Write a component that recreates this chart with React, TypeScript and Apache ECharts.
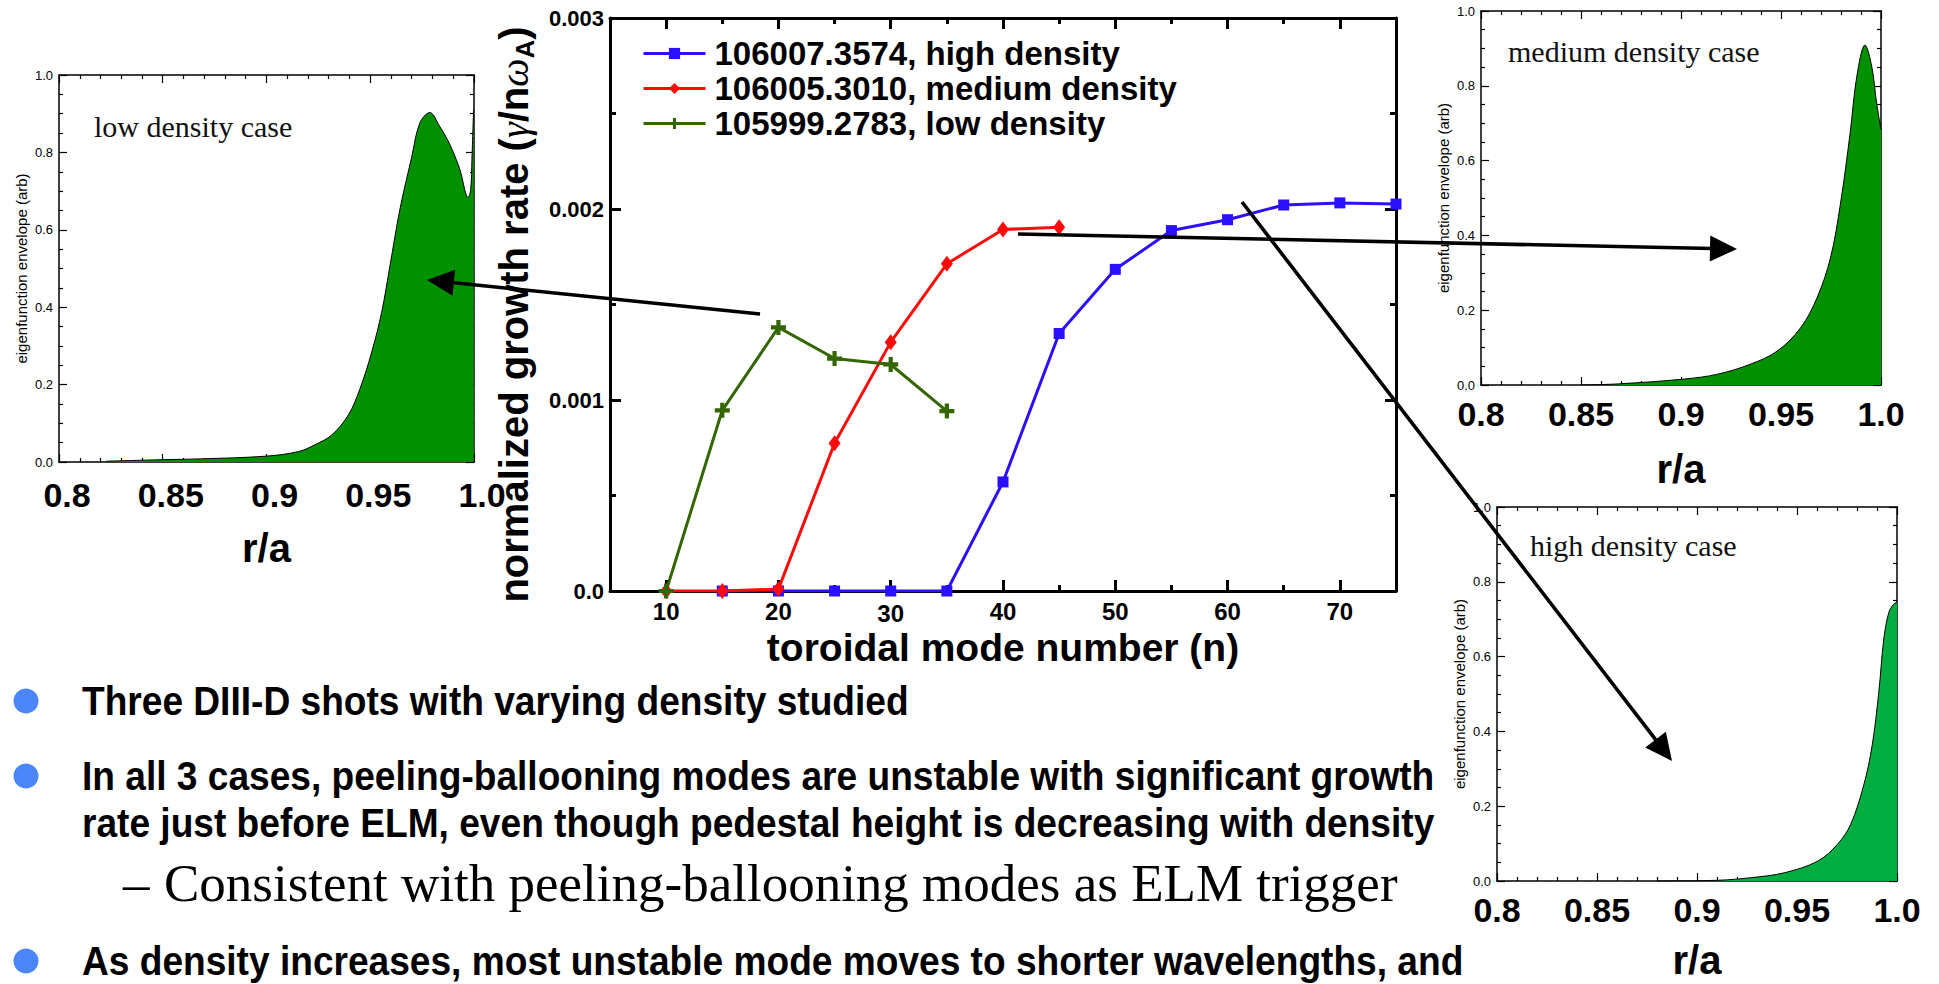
import React, { useEffect, useRef } from 'react';
import * as echarts from 'echarts';

// ---- growth-rate scan (toroidal mode number n vs normalized growth rate) ----
const highN = [15, 20, 25, 30, 35, 40, 45, 50, 55, 60, 65, 70, 75];
const highRate = [0, 0, 0, 0, 0, 0.000571, 0.001348, 0.001684, 0.001887, 0.001944, 0.002021, 0.002032, 0.002026];
const mediumN = [10, 15, 20, 25, 30, 35, 40, 45];
const mediumRate = [0, 0, 0.00001, 0.000774, 0.001303, 0.001713, 0.001893, 0.001904];
const lowN = [10, 15, 20, 25, 30, 35];
const lowRate = [0, 0.000946, 0.00138, 0.001217, 0.001186, 0.000942];
const seriesNames = ['106007.3574, high density', '106005.3010, medium density', '105999.2783, low density'];
const majorNTicks = [10, 20, 30, 40, 50, 60, 70];

// ---- eigenfunction envelopes vs r/a ----
const lowR = [0.8227, 0.85, 0.8675, 0.8995, 0.9155, 0.9235, 0.9315, 0.9395, 0.9451, 0.9507, 0.9555, 0.9595, 0.9643, 0.9699, 0.9739, 0.9787, 0.9835, 0.9875, 0.9915, 0.9939, 0.9955, 0.9971, 0.9984, 0.999, 0.9998];
const lowEnv = [0.002, 0.006, 0.008, 0.015, 0.027, 0.045, 0.07, 0.122, 0.19, 0.284, 0.387, 0.507, 0.653, 0.786, 0.876, 0.903, 0.867, 0.83, 0.781, 0.743, 0.704, 0.683, 0.704, 0.781, 0.91];
const mediumR = [0.85, 0.8687, 0.9018, 0.9184, 0.9349, 0.9482, 0.9598, 0.968, 0.9747, 0.9796, 0.9846, 0.9879, 0.992, 0.9954, 0.9978, 1.0];
const mediumEnv = [0.0, 0.003, 0.016, 0.029, 0.056, 0.091, 0.153, 0.233, 0.339, 0.48, 0.675, 0.825, 0.909, 0.851, 0.754, 0.683];
const highR = [0.88, 0.9106, 0.9272, 0.9437, 0.9603, 0.9702, 0.9768, 0.9834, 0.9876, 0.9909, 0.9934, 0.9959, 0.9983, 1.0];
const highEnv = [0, 0.002, 0.009, 0.022, 0.053, 0.098, 0.151, 0.257, 0.363, 0.505, 0.647, 0.718, 0.74, 0.745];

const panelCaptions = ['low density case', 'medium density case', 'high density case'];
const bulletLines = [
  'Three DIII-D shots with varying density studied',
  'In all 3 cases, peeling-ballooning modes are unstable with significant growth',
  'rate just before ELM, even though pedestal height is decreasing with density',
  'Consistent with peeling-ballooning modes as ELM trigger',
  'As density increases, most unstable mode moves to shorter wavelengths, and',
];

const SANS = "'Liberation Sans', Arial, Helvetica, sans-serif";
const SERIF = "'Liberation Serif', 'Times New Roman', serif";

const pairs = (xs: number[], ys: number[]) => xs.map((x, i) => [x, ys[i]]);

const PLUS = 'path://M3.6,0H6.4V3.6H10V6.4H6.4V10H3.6V6.4H0V3.6H3.6Z';

function arrow(from: number[], to: number[]) {
  const [x1, y1] = from;
  const [x2, y2] = to;
  const dx = x2 - x1, dy = y2 - y1;
  const len = Math.hypot(dx, dy);
  const ux = dx / len, uy = dy / len;
  const headLen = 27, half = 13;
  const bx = x2 - ux * headLen, by = y2 - uy * headLen;
  return [
    { type: 'line', z: 100, shape: { x1, y1, x2: bx + ux * 2, y2: by + uy * 2 }, style: { stroke: '#000', lineWidth: 3.6 } },
    {
      type: 'polygon', z: 100,
      shape: { points: [[x2, y2], [bx - uy * half, by + ux * half], [bx + uy * half, by - ux * half]] },
      style: { fill: '#000' },
    },
  ];
}

function panelAxes(grid: number, labelPad: number, labelMargin: number, rGap: number, yGap: number) {
  const xBase: any = {
    type: 'value', gridIndex: grid, min: 0.8, max: 1.0, interval: 0.05,
    splitLine: { show: false },
    axisLine: { onZero: false, lineStyle: { color: '#000', width: 1.5 } },
    axisTick: { inside: true, length: 8, lineStyle: { color: '#000', width: 1.2 } },
    minorTick: { show: true, splitNumber: 5, length: 4, lineStyle: { color: '#000', width: 1.2 } },
  };
  const bottom = {
    ...xBase, position: 'bottom',
    axisLabel: {
      show: true, margin: labelMargin, color: '#000', fontSize: 34, fontWeight: 'bold', fontFamily: SANS,
      padding: [0, 0, 0, labelPad], showMinLabel: true, showMaxLabel: true,
      formatter: (v: number) => { const r = Math.round(v * 100) / 100; return r === 1 ? '1.0' : String(r); },
    },
    name: 'r/a', nameLocation: 'middle', nameGap: rGap, nameMoveOverlap: false,
    nameTextStyle: { color: '#000', fontSize: 40, fontWeight: 'bold', fontFamily: SANS },
  };
  const top = { ...xBase, position: 'top', axisLabel: { show: false } };
  const yBase: any = {
    type: 'value', gridIndex: grid, min: 0, max: 1, interval: 0.2,
    splitLine: { show: false },
    axisLine: { show: true, onZero: false, lineStyle: { color: '#000', width: 1.5 } },
    axisTick: { show: true, inside: true, length: 8, lineStyle: { color: '#000', width: 1.2 } },
    minorTick: { show: true, splitNumber: 4, length: 4, lineStyle: { color: '#000', width: 1.2 } },
  };
  const left = {
    ...yBase, position: 'left',
    axisLabel: { show: true, margin: 6, color: '#000', fontSize: 13, fontFamily: SANS, formatter: (v: number) => v.toFixed(1) },
    name: 'eigenfunction envelope (arb)', nameLocation: 'middle', nameGap: yGap, nameRotate: 90, nameMoveOverlap: false,
    nameTextStyle: { color: '#000', fontSize: 15, fontFamily: SANS },
  };
  const right = { ...yBase, position: 'right', axisLabel: { show: false } };
  return { x: [bottom, top], y: [left, right] };
}

function buildOption(): any {
  const mainXBase: any = {
    type: 'value', gridIndex: 0, min: 5, max: 75, interval: 5,
    splitLine: { show: false },
    axisLine: { onZero: false, lineStyle: { color: '#000', width: 3 } },
    axisTick: { inside: true, length: 6, lineStyle: { color: '#000', width: 3 } },
  };
  const mainXMajor: any = {
    type: 'value', gridIndex: 0, min: 5, max: 75,
    splitLine: { show: false },
    axisLine: { show: false, onZero: false },
    axisTick: { show: true, inside: true, length: 11, customValues: majorNTicks, lineStyle: { color: '#000', width: 3 } },
    axisLabel: { show: false },
  };
  const mainX = [
    {
      ...mainXBase, position: 'bottom',
      axisLabel: {
        show: true, margin: 8, color: '#000',
        formatter: (v: number) => (v % 10 !== 0 ? '' : v === 30 ? `{lo|${v}}` : `{n|${v}}`),
        rich: {
          n: { fontSize: 24, lineHeight: 24, fontWeight: 'bold', fontFamily: SANS, color: '#000' },
          lo: { fontSize: 24, lineHeight: 24, fontWeight: 'bold', fontFamily: SANS, color: '#000', padding: [5, 0, 0, 0] },
        },
      },
      name: 'toroidal mode number (n)', nameLocation: 'middle', nameGap: 37, nameMoveOverlap: false,
      nameTextStyle: { color: '#000', fontSize: 39, lineHeight: 39, fontWeight: 'bold', fontFamily: SANS },
    },
    { ...mainXMajor, position: 'bottom' },
    { ...mainXBase, position: 'top', axisLabel: { show: false } },
    { ...mainXMajor, position: 'top' },
  ];
  const mainYBase: any = {
    type: 'value', gridIndex: 0, min: 0, max: 0.003, interval: 0.001,
    splitLine: { show: false },
    axisLine: { show: true, onZero: false, lineStyle: { color: '#000', width: 3 } },
    axisTick: { show: true, inside: true, length: 11, lineStyle: { color: '#000', width: 3 } },
    minorTick: { show: true, splitNumber: 2, length: 6, lineStyle: { color: '#000', width: 3 } },
  };
  const mainY = [
    {
      ...mainYBase, position: 'left',
      axisLabel: {
        show: true, margin: 6, color: '#000', fontSize: 22, fontWeight: 'bold', fontFamily: SANS,
        formatter: (v: number) => (v === 0 ? '0.0' : v.toFixed(3)),
      },
      name: '{t|normalized growth rate (}{g|γ}{t|/n}{g|ω}{s|A}{t|)}',
      nameLocation: 'middle', nameGap: 72, nameRotate: 90, nameMoveOverlap: false,
      nameTextStyle: {
        padding: [0, 20, 0, 0],
        rich: {
          t: { fontSize: 40, fontWeight: 'bold', fontFamily: SANS, color: '#000', lineHeight: 48 },
          g: { fontSize: 40, fontStyle: 'italic', fontFamily: SERIF, color: '#000', lineHeight: 48 },
          s: { fontSize: 26, fontWeight: 'bold', fontFamily: SANS, color: '#000', lineHeight: 48, verticalAlign: 'bottom' },
        },
      },
    },
    { ...mainYBase, position: 'right', axisLabel: { show: false } },
  ];

  const low = panelAxes(1, 16, 16, 66, 30);
  const med = panelAxes(2, 0, 12, 64, 30);
  const high = panelAxes(3, 0, 12, 59, 30);

  const lineSeries = (name: string, xs: number[], ys: number[], color: string, symbol: string, symbolSize: any) => ({
    type: 'line', name, xAxisIndex: 0, yAxisIndex: 0,
    data: pairs(xs, ys), color,
    symbol, symbolSize, showSymbol: true,
    lineStyle: { color, width: 3 },
    itemStyle: { color },
  });

  const envSeries = (name: string, xs: number[], ys: number[], xi: number, yi: number, fill: string) => ({
    type: 'line', name, xAxisIndex: xi, yAxisIndex: yi,
    data: pairs(xs, ys), showSymbol: false, symbol: 'none', smooth: 0.35,
    lineStyle: { color: '#000', width: 1 },
    areaStyle: { color: fill, opacity: 1 },
  });

  const graphic: any[] = [];
  // panel captions
  const captionPos = [[94, 126], [1508, 51], [1530, 545]];
  panelCaptions.forEach((t, i) => {
    graphic.push({
      type: 'text', z: 10, x: captionPos[i][0], y: captionPos[i][1],
      style: { text: t, fill: '#111', fontSize: 30, fontFamily: SERIF, align: 'left', verticalAlign: 'middle' },
    });
  });
  // bullets
  [701, 776, 961].forEach((y) => {
    graphic.push({ type: 'circle', z: 10, shape: { cx: 26, cy: y, r: 12.5 }, style: { fill: '#4a86f8' } });
  });
  const boldLine = (text: string, y: number) => ({
    type: 'text', z: 10, x: 82, y, scaleX: 0.905,
    style: { text, fill: '#000', fontSize: 41, fontWeight: 'bold', fontFamily: SANS, align: 'left', verticalAlign: 'middle' },
  });
  graphic.push(boldLine(bulletLines[0], 701));
  graphic.push(boldLine(bulletLines[1], 776));
  graphic.push(boldLine(bulletLines[2], 823));
  graphic.push({
    type: 'text', z: 10, x: 123, y: 883,
    style: { text: '–', fill: '#000', fontSize: 53, fontFamily: SERIF, align: 'left', verticalAlign: 'middle' },
  });
  graphic.push({
    type: 'text', z: 10, x: 164, y: 883,
    style: { text: bulletLines[3], fill: '#000', fontSize: 53, fontFamily: SERIF, align: 'left', verticalAlign: 'middle' },
  });
  graphic.push(boldLine(bulletLines[4], 961));
  // arrows linking the growth-rate curves to their eigenfunctions
  graphic.push(...arrow([760, 314], [427, 280]));
  graphic.push(...arrow([1018, 234], [1737, 249]));
  graphic.push(...arrow([1242, 202], [1672, 761]));

  return {
    animation: false,
    backgroundColor: '#fff',
    grid: [
      { left: 610, top: 18, width: 786, height: 573 },
      { left: 59, top: 75, width: 415, height: 387 },
      { left: 1481, top: 11, width: 400, height: 374 },
      { left: 1497, top: 507, width: 400, height: 374 },
    ],
    legend: {
      show: true, orient: 'vertical', left: 642, top: 36, padding: 0,
      itemWidth: 62, itemHeight: 14, itemGap: 0,
      selectedMode: false, data: seriesNames,
      lineStyle: { width: 3 },
      textStyle: { color: '#000', fontSize: 33, lineHeight: 35, fontWeight: 'bold', fontFamily: SANS, padding: [0, 0, 0, 4] },
    },
    xAxis: [...mainX, ...low.x, ...med.x, ...high.x],
    yAxis: [...mainY, ...low.y, ...med.y, ...high.y],
    series: [
      lineSeries(seriesNames[0], highN, highRate, '#2b0fff', 'rect', 11),
      lineSeries(seriesNames[1], mediumN, mediumRate, '#ff0a0a', 'diamond', [12, 16]),
      lineSeries(seriesNames[2], lowN, lowRate, '#336600', PLUS, 15),
      envSeries('low density envelope', lowR, lowEnv, 4, 2, '#009000'),
      envSeries('medium density envelope', mediumR, mediumEnv, 6, 4, '#009000'),
      envSeries('high density envelope', highR, highEnv, 8, 6, '#00ad41'),
    ],
    graphic,
  };
}

export default function App() {
  const ref = useRef<HTMLDivElement>(null);
  useEffect(() => {
    if (!ref.current) return;
    const chart = echarts.init(ref.current, undefined, { renderer: 'svg' });
    chart.setOption(buildOption());
    return () => chart.dispose();
  }, []);
  return (
    <div
      ref={ref}
      style={{ position: 'absolute', left: 0, top: 0, width: 1939, height: 984, background: '#fff', overflow: 'hidden' }}
    />
  );
}
